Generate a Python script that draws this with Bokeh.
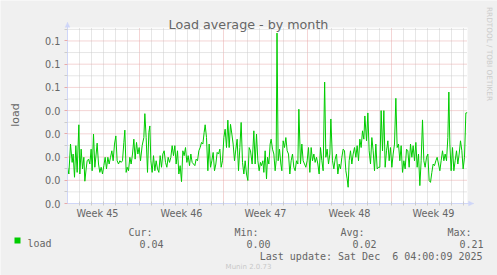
import math
from bokeh.plotting import figure
from bokeh.models import FixedTicker, Label, BoxAnnotation, PolyAnnotation, Range1d
from bokeh.embed import file_html
from bokeh.resources import INLINE

# ---- data (hours since start of the 33-day window, load average) ----
t_hours = [
    0, 2.7, 6, 9.3, 11.3, 14, 16.7, 19.3, 22.7, 24.7, 27.3, 30, 32.7, 34.7, 37.3, 39.3,
    42, 44.7, 47.3, 49.3, 52, 54.7, 57.3, 59.3, 62, 64.7, 67.3, 70, 72.7, 75.3, 78, 80.7,
    83.3, 86, 88.7, 91.3, 94, 96.7, 99.3, 102, 104.7, 107.3, 110, 112.7, 114.7, 117.3,
    119.3, 122, 124.7, 127.3, 130, 132.7, 135.3, 138, 140.7, 143.3, 146, 149.3, 152.7,
    154.7, 157.3, 160, 162.7, 164.7, 166.7, 169.3, 172, 174.7, 177.3, 180, 182.7, 185.3,
    188, 190.7, 193.3, 196, 198.7, 201.3, 204, 206.7, 209.3, 212, 214.7, 217.3, 220,
    222.7, 225.3, 228, 230.7, 233.3, 236, 238.7, 241.3, 244, 246.7, 249.3, 252, 254.7,
    257.3, 260, 262.7, 265.3, 268, 270.7, 273.3, 275.3, 278, 280.7, 283.3, 286, 288.7,
    291.3, 294, 296.7, 299.3, 302, 304.7, 307.3, 310, 312.7, 315.3, 318, 320.7, 323.3,
    326, 328.7, 331.3, 334, 336.7, 339.3, 342, 344.7, 347.3, 350, 352.7, 355.3, 358,
    360.7, 363.3,
    366, 369.3, 372.7, 375.3, 378, 380.7, 383.3, 386, 388, 390.7, 392.7, 395.3, 398, 400,
    402.7, 405.3, 407.3, 410, 412.7, 415.3, 417.3, 419, 421.3, 424, 426.7, 428.7, 431.3,
    434, 436.7, 439.3, 442, 444.7, 447.3, 450, 452.7, 455.3, 458, 460.7, 462.7, 466,
    468.7, 471.3, 474, 476.7, 479.3, 482, 484.7, 487.3, 490, 492.7, 495.3, 498, 500.7,
    503.3, 506, 508.7, 511.3, 514.3, 516.7, 519.3, 522, 524.7, 526.7, 530, 532.7, 535.3,
    538, 540.7, 543.3, 546, 548.7, 551.3, 554, 556.7, 559.3, 561.3, 563.3, 566, 568.7,
    571.3, 574, 576.7, 579.3, 582, 584.7, 587.3, 590, 592.7, 594.7, 598, 600.7, 603.3,
    606, 608.7, 611.3, 614, 616.7, 619.3, 622, 624.7, 627.3, 630, 632.7, 635.3, 638,
    640.7, 643.3, 646, 648.7, 651.3, 654, 656.7, 659.3, 662, 664.7, 667.3, 670, 672.7,
    675.3, 678, 680.7, 683.3, 686, 688.7, 691.3, 694, 696.7, 699.3, 702, 704.7, 707.3,
    710, 712.7, 715.3, 718, 720.7, 723.3, 726, 728.7, 731.3, 734, 736.7, 739.3, 742,
    744.7, 747.3, 750, 752.7, 755.3, 758, 760.7, 762.7, 764.7, 767.3, 770, 772.7, 775.3,
    778, 780.7, 783.3, 786, 788.7, 791.3, 794, 796.7, 799.3,
]
load = [
    0.0156, 0.0127, 0.0256, 0.0177, 0.0213, 0.0113, 0.0249, 0.0134, 0.0339, 0.0127,
    0.0234, 0.0149, 0.0199, 0.0096, 0.0149, 0.0184, 0.0191, 0.0170, 0.0234, 0.0141,
    0.0299, 0.0156, 0.0213, 0.0260, 0.0170, 0.0134, 0.0156, 0.0127, 0.0163, 0.0199,
    0.0149, 0.0199, 0.0170, 0.0199, 0.0227, 0.0184, 0.0256, 0.0291, 0.0184, 0.0170,
    0.0184, 0.0177, 0.0184, 0.0263, 0.0316, 0.0134, 0.0156, 0.0141, 0.0199, 0.0170,
    0.0213, 0.0277, 0.0191, 0.0263, 0.0213, 0.0241, 0.0184, 0.0249, 0.0284, 0.0387,
    0.0284, 0.0134, 0.0306, 0.0334, 0.0184, 0.0134, 0.0206, 0.0141, 0.0184, 0.0149,
    0.0134, 0.0206, 0.0156, 0.0213, 0.0227, 0.0177, 0.0156, 0.0199, 0.0177, 0.0199,
    0.0249, 0.0206, 0.0249, 0.0170, 0.0227, 0.0127, 0.0163, 0.0094, 0.0227, 0.0206,
    0.0241, 0.0177, 0.0206, 0.0163, 0.0213, 0.0177, 0.0170, 0.0163, 0.0191, 0.0184,
    0.0227, 0.0241, 0.0263, 0.0256, 0.0306, 0.0339, 0.0284, 0.0141, 0.0256, 0.0156,
    0.0184, 0.0220, 0.0141, 0.0170, 0.0220, 0.0213, 0.0234, 0.0156, 0.0184, 0.0284,
    0.0320, 0.0241, 0.0359, 0.0241, 0.0341, 0.0299, 0.0256, 0.0184, 0.0234, 0.0277,
    0.0141, 0.0241, 0.0349, 0.0177, 0.0127, 0.0184, 0.0127, 0.0099, 0.0241,
    0.0227, 0.0170, 0.0313, 0.0170, 0.0299, 0.0184, 0.0141, 0.0177, 0.0163, 0.0184,
    0.0134, 0.0227, 0.0106, 0.0199, 0.0170, 0.0256, 0.0277, 0.0234, 0.0213, 0.0141,
    0.0184, 0.0734, 0.0184, 0.0234, 0.0170, 0.0141, 0.0270, 0.0241, 0.0284, 0.0227,
    0.0213, 0.0127, 0.0184, 0.0213, 0.0156, 0.0141, 0.0184, 0.0170, 0.0406, 0.0170,
    0.0256, 0.0184, 0.0170, 0.0156, 0.0184, 0.0241, 0.0134, 0.0241, 0.0184, 0.0213,
    0.0177, 0.0199, 0.0170, 0.0127, 0.0241, 0.0184, 0.0141, 0.0523, 0.0199, 0.0234,
    0.0170, 0.0213, 0.0364, 0.0184, 0.0149, 0.0191, 0.0213, 0.0127, 0.0170, 0.0149,
    0.0199, 0.0234, 0.0227, 0.0141, 0.0106, 0.0070, 0.0184, 0.0227, 0.0170, 0.0213,
    0.0241, 0.0199, 0.0249, 0.0184, 0.0277, 0.0241, 0.0313, 0.0277, 0.0377, 0.0270,
    0.0390, 0.0227, 0.0170, 0.0284, 0.0227, 0.0141, 0.0256, 0.0149, 0.0156, 0.0156,
    0.0400, 0.0227, 0.0400, 0.0156, 0.0227, 0.0270, 0.0184, 0.0241, 0.0156, 0.0213,
    0.0256, 0.0453, 0.0241, 0.0256, 0.0184, 0.0249, 0.0134, 0.0184, 0.0149, 0.0234,
    0.0227, 0.0156, 0.0256, 0.0199, 0.0249, 0.0184, 0.0263, 0.0156, 0.0213, 0.0077,
    0.0184, 0.0360, 0.0184, 0.0156, 0.0199, 0.0213, 0.0099, 0.0091, 0.0134, 0.0170,
    0.0163, 0.0184, 0.0199, 0.0170, 0.0141, 0.0184, 0.0227, 0.0184, 0.0213, 0.0184,
    0.0284, 0.0480, 0.0256, 0.0141, 0.0241, 0.0141, 0.0184, 0.0227, 0.0170, 0.0213,
    0.0270, 0.0227, 0.0149, 0.0199, 0.0390, 0.0391,
]

t_end = 800          # hours shown (33 days + 8 h)
y_top = 0.0758       # top of the graph canvas

week_label_pos = [60, 228, 396, 564, 732]
week_labels = ["Week 45", "Week 46", "Week 47", "Week 48", "Week 49"]
week_starts = [144, 312, 480, 648]
day_lines = [24 * d for d in range(1, 34)]

y_ticks = [0.0, 0.01, 0.02, 0.03, 0.04, 0.05, 0.06, 0.07]
y_tick_labels = ["0.0", "0.0", "0.0", "0.0", "0.0", "0.1", "0.1", "0.1"]
y_minor = [0.005, 0.015, 0.025, 0.035, 0.045, 0.055, 0.065, 0.075]

legend_heads = ["Cur:", "Min:", "Avg:", "Max:"]
legend_vals = ["0.04", "0.00", "0.02", "0.21"]
last_update = "Last update: Sat Dec \u00a06 04:00:09 2025"

FONT = "DejaVu Sans"
MONO = "DejaVu Sans Mono"
TXT = "#666666"
AXIS = "#CFD6F8"
GRID = "#CCCCCC"
MGRID = "#E8AAAA"
BG = "#F0F0F0"

W, H = 497, 275
X0, Y0 = 67, 203          # pixel position of (t=0, load=0)
PX_PER_H = 0.5
PX_PER_UNIT = 176 / y_top

xr = Range1d(-X0 / PX_PER_H, (W - X0) / PX_PER_H)
yr = Range1d(-(H - Y0) / PX_PER_UNIT, Y0 / PX_PER_UNIT)

p = figure(width=W, height=H, x_range=xr, y_range=yr,
           output_backend="svg", toolbar_location=None, title=None,
           min_border=0, min_border_left=0, min_border_right=0,
           min_border_top=0, min_border_bottom=0,
           background_fill_color=BG, border_fill_color=BG,
           outline_line_color=None)
p.grid.visible = False

# white graph canvas
p.add_layout(BoxAnnotation(left=0, right=t_end, bottom=0, top=y_top,
                           fill_color="white", fill_alpha=1, line_color=None,
                           level="underlay"))

# grid lines (dotted), limited to the canvas
minor_days = [d for d in day_lines if d not in week_starts]
p.segment(x0=minor_days, y0=[0] * len(minor_days), x1=minor_days,
          y1=[y_top] * len(minor_days), line_color=GRID, line_dash="1 1")
p.segment(x0=week_starts, y0=[0] * len(week_starts), x1=week_starts,
          y1=[y_top] * len(week_starts), line_color=MGRID, line_dash="1 1")
p.segment(x0=[0] * len(y_minor), y0=y_minor, x1=[t_end] * len(y_minor),
          y1=y_minor, line_color=GRID, line_dash="1 1")
p.segment(x0=[0] * 7, y0=y_ticks[1:], x1=[t_end] * 7, y1=y_ticks[1:],
          line_color=MGRID, line_dash="1 1")

# axes, fixed at the origin
xa = p.xaxis[0]
xa.fixed_location = 0
xa.bounds = (0, 812)
xa.ticker = FixedTicker(ticks=week_label_pos, minor_ticks=day_lines)
xa.major_label_overrides = dict(zip(week_label_pos, week_labels))
xa.major_tick_line_color = None
xa.major_tick_out = 0
xa.major_tick_in = 0
xa.minor_tick_line_color = GRID
xa.minor_tick_in = 2
xa.minor_tick_out = 2
xa.axis_line_color = AXIS
xa.major_label_text_font = FONT
xa.major_label_text_font_size = "9.7px"
xa.major_label_text_color = TXT
xa.major_label_standoff = 2

ya = p.yaxis[0]
ya.fixed_location = 0
ya.bounds = (0, 0.0781)
ya.ticker = FixedTicker(ticks=y_ticks, minor_ticks=y_minor)
ya.major_label_overrides = dict(zip(y_ticks, y_tick_labels))
ya.major_tick_line_color = MGRID
ya.major_tick_out = 3
ya.major_tick_in = 0
ya.minor_tick_line_color = GRID
ya.minor_tick_out = 3
ya.minor_tick_in = 0
ya.axis_line_color = AXIS
ya.major_label_text_font = FONT
ya.major_label_text_font_size = "9.7px"
ya.major_label_text_color = TXT
ya.major_label_standoff = 4

# data line
p.line(t_hours, load, line_color="#00CC00", line_width=1)

# axis arrows (screen px, origin at bottom-left of the page)
p.add_layout(PolyAnnotation(xs=[64.5, 69.5, 67], ys=[248.3, 248.3, 253.3],
                            xs_units="screen", ys_units="screen",
                            fill_color=AXIS, fill_alpha=1, line_color=AXIS))
p.add_layout(PolyAnnotation(xs=[468, 468, 473.3], ys=[74.5, 69.5, 72],
                            xs_units="screen", ys_units="screen",
                            fill_color=AXIS, fill_alpha=1, line_color=AXIS))

def lab(x, y, text, font=FONT, size="9.7px", color=TXT, align="left",
        baseline="alphabetic", angle=0):
    p.add_layout(Label(x=x, y=y, x_units="screen", y_units="screen", text=text,
                       text_font=font, text_font_size=size, text_color=color,
                       text_align=align, text_baseline=baseline, angle=angle))

# title, unit label, watermark
lab(248, 250.7, "Load average - by month", size="12.7px", align="center")
lab(15, 160.5, "load", size="11px", align="center", angle=math.pi / 2)
lab(488.5, 221.5, "RRDTOOL / TOBI OETIKER", size="7.3px", color="#CCCCCC",
    align="center", baseline="middle", angle=-math.pi / 2)

# legend
MSIZE = "10px"
head_x = [128, 234, 340, 447]
val_x = [139, 246, 352, 459]
for hx, h in zip(head_x, legend_heads):
    lab(hx, 43.5, h, font=MONO, size=MSIZE)
for vx, v in zip(val_x, legend_vals):
    lab(vx, 31.7, v, font=MONO, size=MSIZE)
lab(27, 31.7, "load", font=MONO, size=MSIZE)
p.add_layout(BoxAnnotation(left=14, right=20, top=38, bottom=32,
                           left_units="screen", right_units="screen",
                           top_units="screen", bottom_units="screen",
                           fill_color="#00CC00", fill_alpha=1, line_color=None))
lab(482, 19.5, last_update, font=MONO, size=MSIZE, align="right")
lab(248, 8.3, "Munin 2.0.73", size="7px", color="#C8C8C8", align="center")

open("out.html", "w").write(file_html(p, INLINE))
